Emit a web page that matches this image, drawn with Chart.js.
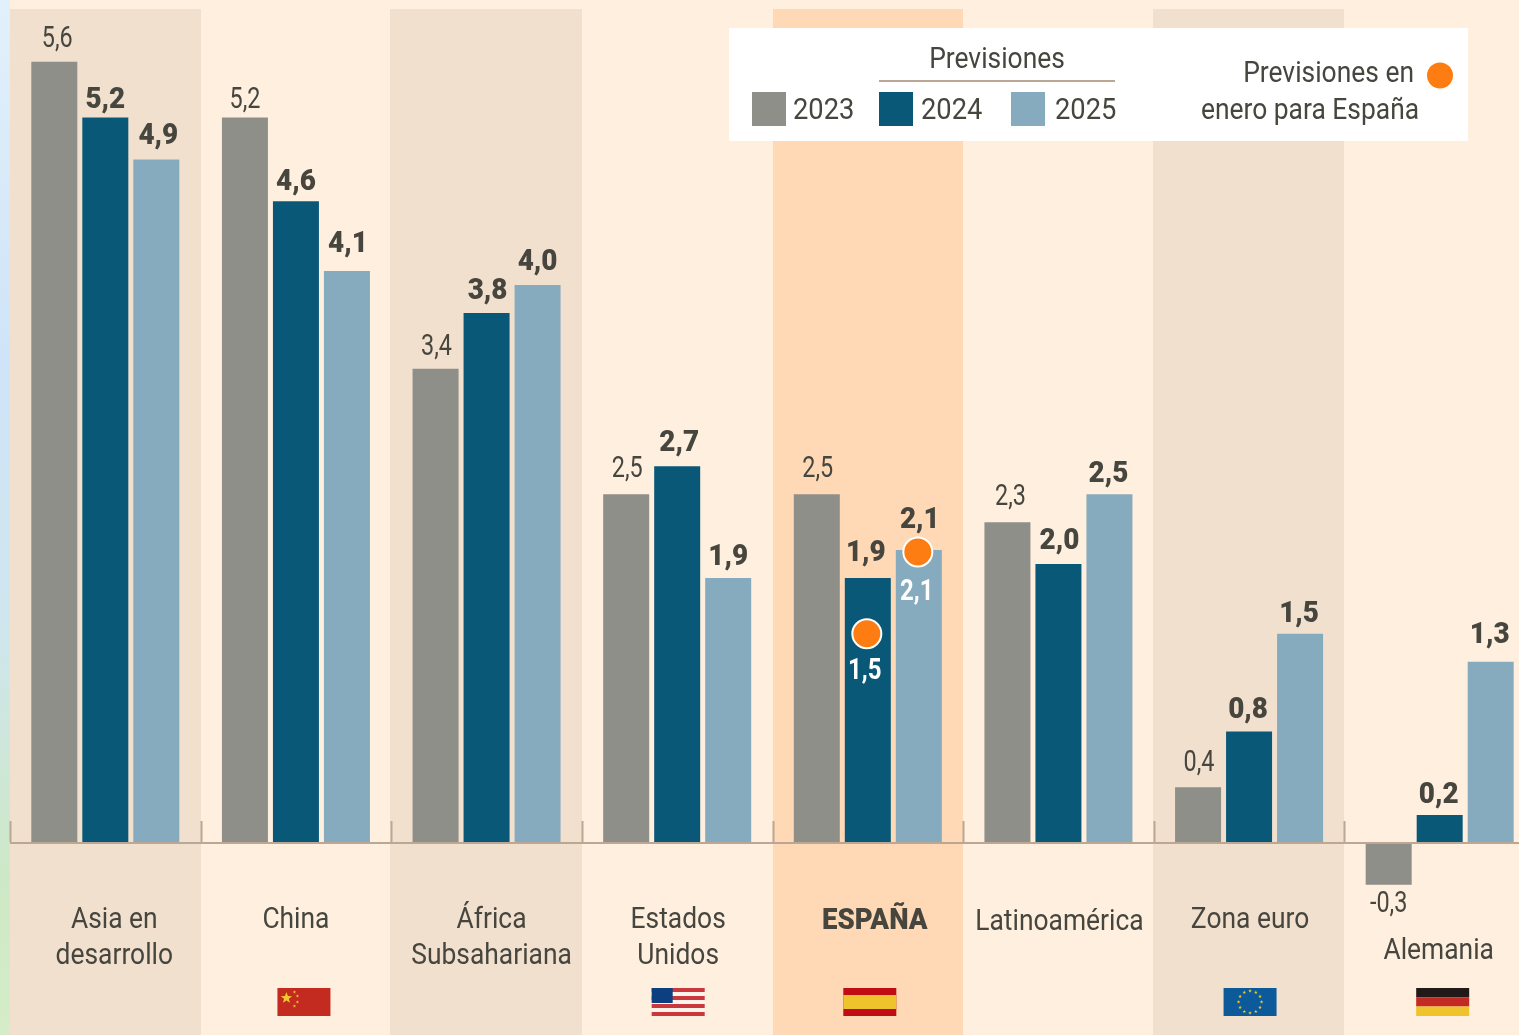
<!DOCTYPE html>
<html lang="es"><head><meta charset="utf-8">
<script src="https://cdn.jsdelivr.net/npm/chart.js@4/dist/chart.umd.min.js"></script>
<style>
html,body{margin:0;padding:0;width:1519px;height:1035px;overflow:hidden;background:linear-gradient(180deg,#e2f0fa 0%,#cfe4f8 35%,#cfe6ee 60%,#cde8c6 85%,#d6ecc8 100%)}
#w{position:absolute;left:0;top:0;width:1519px;height:1035px;overflow:hidden}
canvas{display:block}
</style></head><body>
<div id="w"><canvas id="c" width="1535" height="1035" style="width:1535px;height:1035px"></canvas></div>
<script>
const categories=["Asia en desarrollo","China","África Subsahariana","Estados Unidos","ESPAÑA","Latinoamérica","Zona euro","Alemania"];
const categoryLines=[["Asia en","desarrollo"],["China"],["África","Subsahariana"],["Estados","Unidos"],["ESPAÑA"],["Latinoamérica"],["Zona euro"],["Alemania"]];
const series2023=[5.6,5.2,3.4,2.5,2.5,2.3,0.4,-0.3];
const series2024=[5.2,4.6,3.8,2.7,1.9,2.0,0.8,0.2];
const series2025=[4.9,4.1,4.0,1.9,2.1,2.5,1.5,1.3];
const enero2024=[null,null,null,null,1.5,null,null,null];
const enero2025=[null,null,null,null,2.1,null,null,null];
const yearLabels=["2023","2024","2025"];
const flags=[null,"cn",null,"us","es",null,"eu","de"];

const GREY="#8f8f89",NAVY="#0a5878",SKY="#86abbe",INK="#46463f",RULE="#bba793",ORANGE="#fe7d12";
const FONT='Roboto,"Liberation Sans"';
const fmt=v=>String(v.toFixed(1)).replace(".",",");
const labelDX=[9,0,5,1,7,1,1,-1];
const labelY=[[919,955],[919],[919,955],[919,955],[920],[921],[919],[950]];
const flagDX={cn:8,us:1,es:2,eu:1,de:3};
// small hand nudges of the value labels, as set in the original graphic
const nudgeY=[[3,8,4,0,0,0,1,2],[6,4,2,0,-1,0,2,3],[0,-4,0,3,-7,3,4,-3]];
const nudgeX=[[1,-2,-1,-1,-1,1,-1,-2],[-1,-1,0,1,-3,0,-2,-2],[1,0,-1,-1,0,-2,-2,-2]];

function text(ctx,s,x,y,size,weight,color,align,hs){
  ctx.save();
  ctx.font=(weight||400)+" "+size+"px "+FONT;
  ctx.fillStyle=color||INK;ctx.textAlign=align||"center";ctx.textBaseline="middle";
  ctx.translate(x,y+1);ctx.scale(hs||0.88,1);
  ctx.fillText(s,0,0);
  ctx.restore();
}
function star(ctx,cx,cy,r,color){
  ctx.fillStyle=color;ctx.beginPath();
  for(let i=0;i<10;i++){const a=-Math.PI/2+i*Math.PI/5,q=i%2?r*0.42:r;
    ctx.lineTo(cx+q*Math.cos(a),cy+q*Math.sin(a));}
  ctx.closePath();ctx.fill();
}
function drawFlag(ctx,k,cx){
  const x=cx-26.5,y=988,w=53,h=28;
  if(k==="cn"){ctx.fillStyle="#c32a20";ctx.fillRect(x,y,w,h);
    star(ctx,x+9,y+10,6,"#f0c92e");
    [[17,4],[20,8],[20,14],[17,18]].forEach(p=>star(ctx,x+p[0],y+p[1],1.8,"#f0c92e"));}
  if(k==="us"){const n=7;for(let i=0;i<n;i++){ctx.fillStyle=i%2?"#fdf3ea":"#c8383c";ctx.fillRect(x,y+i*h/n,w,h/n);}
    ctx.fillStyle="#0c3f80";ctx.fillRect(x,y,21,15);}
  if(k==="es"){ctx.fillStyle="#c10c14";ctx.fillRect(x,y,w,h);ctx.fillStyle="#eec32b";ctx.fillRect(x,y+7,w,14);}
  if(k==="eu"){ctx.fillStyle="#0d5a9a";ctx.fillRect(x,y,w,h);
    for(let i=0;i<12;i++){const a=i*Math.PI/6;star(ctx,cx+11.5*Math.sin(a),y+14+11*Math.cos(a),1.9,"#eec32b");}}
  if(k==="de"){ctx.fillStyle="#221a18";ctx.fillRect(x,y,w,9.5);ctx.fillStyle="#c32a24";ctx.fillRect(x,y+9.5,w,9);ctx.fillStyle="#eec32b";ctx.fillRect(x,y+18.5,w,9.5);}
}

const decor={
  id:"decor",
  afterDatasetsUpdate(chart){
    [[3,1,0],[4,2,2]].forEach(([line,bar,dy])=>{
      const pts=chart.getDatasetMeta(line).data,bars=chart.getDatasetMeta(bar).data;
      pts.forEach((p,i)=>{p.x=bars[i].x-1;p.y+=dy;});
    });
  },
  beforeDatasetsDraw(chart){
    const {ctx,scales:{x,y}}=chart,top=chart.chartArea.top,bottom=chart.chartArea.bottom;
    ctx.save();
    ctx.fillStyle="#feefdf";ctx.fillRect(10,0,chart.width,1035);
    categories.forEach((c,i)=>{
      const l=x.left+i*x.width/8,w=x.width/8,even=i%2===0&&i!==4;
      ctx.fillStyle=i===4?"#ffd8b6":(even?"#f2e0ce":"#feefdf");
      ctx.fillRect(Math.round(l)-(even&&i>0?1:0),top,Math.round(w)+(even?2:0),bottom-top);
    });
    ctx.strokeStyle=RULE;ctx.lineWidth=2;
    const y0=y.getPixelForValue(0)-1;
    for(let i=0;i<=8;i++){const l=Math.round(x.left+i*x.width/8)+.5;
      ctx.beginPath();ctx.moveTo(l,y0-21);ctx.lineTo(l,y0);ctx.stroke();}
    ctx.restore();
  },
  afterDatasetsDraw(chart){
    const {ctx,scales:{x,y}}=chart;
    ctx.save();
    const y0=y.getPixelForValue(0)-1;
    ctx.fillStyle=RULE;ctx.fillRect(x.left,y0,x.width,2);
    [0,1,2].forEach(d=>{
      const meta=chart.getDatasetMeta(d);
      chart.data.datasets[d].data.forEach((v,i)=>{
        const b=meta.data[i],bold=d>0;
        const yy=(v<0?b.y+17:b.y-(bold?24:26))+nudgeY[d][i];
        text(ctx,fmt(v),b.x+1+(bold?0:1)+nudgeX[d][i],yy,30,bold?900:400,INK,"center",bold?0.93:0.78);
      });
    });
    [[3,37,-2],[4,41,-1]].forEach(([d,off,dx])=>{
      const meta=chart.getDatasetMeta(d);
      chart.data.datasets[d].data.forEach((v,i)=>{
        if(v===null)return;
        const p=meta.data[i];
        text(ctx,fmt(v),p.x+dx,y.getPixelForValue(v)+off,30,700,"#ffffff","center",0.8);
      });
    });
    categoryLines.forEach((lines,i)=>{
      const cx=x.getPixelForValue(i)+labelDX[i];
      lines.forEach((s,j)=>text(ctx,s,cx,labelY[i][j],30,i===4?900:400,INK,"center",i===4?0.92:0.88));
      if(flags[i])drawFlag(ctx,flags[i],x.getPixelForValue(i)+flagDX[flags[i]]);
    });
    ctx.fillStyle="#ffffff";ctx.fillRect(729,28,739,113);
    text(ctx,"Previsiones",997,59,30);
    ctx.fillStyle=RULE;ctx.fillRect(879,80,236,2);
    [[752,GREY,793],[879,NAVY,921],[1011,SKY,1055]].forEach((r,i)=>{
      ctx.fillStyle=r[1];ctx.fillRect(r[0],92,34,34);
      text(ctx,yearLabels[i],r[2],110,30,400,INK,"left",0.91);
    });
    text(ctx,"Previsiones en",1414,73,30,400,INK,"right");
    text(ctx,"enero para España",1310,110,30);
    ctx.fillStyle=ORANGE;ctx.beginPath();ctx.arc(1440,75.5,13,0,Math.PI*2);ctx.fill();
    ctx.restore();
  }
};

const bar=(label,data,color)=>({type:"bar",label,data,backgroundColor:color,borderWidth:0,order:2,
  categoryPercentage:153/190.6,barPercentage:46/51});
const pts=(label,data)=>({type:"line",label,data,showLine:false,order:1,pointRadius:14.5,pointHoverRadius:14.5,
  pointBackgroundColor:ORANGE,pointBorderColor:"#ffffff",pointBorderWidth:2});

new Chart(document.getElementById("c"),{
  type:"bar",
  data:{labels:categories,datasets:[
    bar(yearLabels[0],series2023,GREY),bar(yearLabels[1],series2024,NAVY),bar(yearLabels[2],series2025,SKY),
    pts("Previsiones en enero 2024",enero2024),pts("Previsiones en enero 2025",enero2025)]},
  plugins:[decor],
  options:{responsive:false,animation:false,devicePixelRatio:1,
    layout:{autoPadding:false,padding:{left:10,right:0,top:9,bottom:0}},
    plugins:{legend:{display:false},tooltip:{enabled:false}},
    scales:{
      x:{display:false,offset:true,grid:{display:false}},
      y:{display:false,min:-192/139.5,max:834/139.5,grid:{display:false}}
    }}
});
</script></body></html>
